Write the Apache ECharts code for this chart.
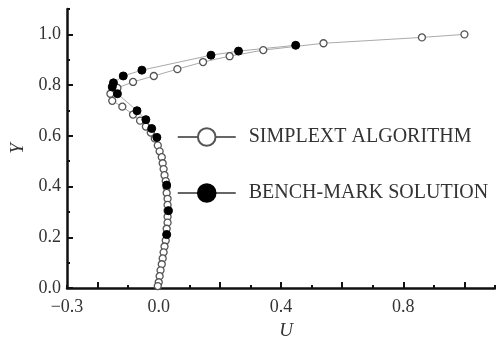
<!DOCTYPE html>
<html>
<head>
<meta charset="utf-8">
<script src="https://cdn.jsdelivr.net/npm/echarts@6/dist/echarts.min.js"></script>
<style>
  html, body { margin: 0; padding: 0; background: #fff; }
  #main { width: 496px; height: 345px; }
</style>
</head>
<body>
<div id="main"></div>
<script>
// values: [U, Y]
var simplextU = [1.0, 0.861, 0.539, 0.342, 0.232, 0.145, 0.061, -0.016, -0.084, -0.135, -0.158, -0.152, -0.119, -0.084,
    -0.061, -0.042, -0.026, -0.013, -0.003, 0.003, 0.010, 0.013, 0.016, 0.019, 0.023, 0.026, 0.026, 0.029, 0.029,
    0.029, 0.029, 0.029, 0.026, 0.026, 0.023, 0.019, 0.016, 0.013, 0.010, 0.006, 0.003, 0.0, -0.003];
var simplextY = [1.0, 0.988, 0.965, 0.938, 0.914, 0.891, 0.863, 0.836, 0.8125, 0.789, 0.766, 0.738, 0.715, 0.684,
    0.660, 0.637, 0.613, 0.590, 0.5625, 0.539, 0.516, 0.492, 0.469, 0.445, 0.422, 0.398, 0.375, 0.352, 0.328,
    0.305, 0.281, 0.258, 0.234, 0.211, 0.1875, 0.164, 0.141, 0.117, 0.094, 0.070, 0.047, 0.023, 0.008];

var benchU = [0.448, 0.261, 0.171, -0.055, -0.116, -0.148, -0.152, -0.135, -0.071, -0.042, -0.023, -0.006, 0.026, 0.032, 0.026];
var benchY = [0.957, 0.934, 0.918, 0.859, 0.836, 0.809, 0.793, 0.766, 0.699, 0.664, 0.629, 0.594, 0.406, 0.305, 0.211];

var xLabels = [-0.3, 0.0, 0.4, 0.8];
var yLabels = [0.0, 0.2, 0.4, 0.6, 0.8, 1.0];
var xMajor = [-0.2, 0.0, 0.2, 0.4, 0.6, 0.8, 1.0];
var yMajor = [0.0, 0.2, 0.4, 0.6, 0.8, 1.0];

function pairs(xs, ys) {
    return xs.map(function (x, i) { return [x, ys[i]]; });
}

var serif = 'Liberation Serif';
var labelFmt = function (v) { return v < 0 ? '\u2212' + Math.abs(v).toFixed(1) : v.toFixed(1); };

var option = {
    animation: false,
    backgroundColor: '#fff',
    grid: { left: 61, right: 1, top: 9, bottom: 54 },
    legend: {
        orient: 'vertical',
        left: 172,
        top: 122,
        itemWidth: 58,
        itemHeight: 22,
        itemGap: 36,
        lineStyle: { color: '#333', width: 1.5 },
        textStyle: { fontFamily: serif, fontSize: 20, color: '#333', padding: [0, 0, 0, 8] },
        data: ['SIMPLEXT ALGORITHM', 'BENCH-MARK SOLUTION']
    },
    xAxis: [
        {
            type: 'value',
            min: -0.3,
            max: 1.1,
            interval: 0.1,
            splitLine: { show: false },
            axisLine: { onZero: false, lineStyle: { color: '#111', width: 2.5 } },
            axisTick: { inside: true, length: 3, lineStyle: { color: '#111', width: 2 } },
            axisLabel: {
                customValues: xLabels,
                formatter: labelFmt,
                margin: 10,
                fontFamily: serif, fontSize: 18, color: '#333'
            },
            name: 'U',
            nameLocation: 'middle',
            nameGap: 27,
            nameTextStyle: { fontFamily: serif, fontStyle: 'italic', fontSize: 19, color: '#333', padding: [0, 0, 0, 10] }
        },
        {
            type: 'value',
            min: -0.3,
            max: 1.1,
            position: 'bottom',
            splitLine: { show: false },
            axisLine: { show: false, onZero: false },
            axisTick: { inside: true, length: 6, customValues: xMajor, lineStyle: { color: '#111', width: 2 } },
            axisLabel: { show: false }
        }
    ],
    yAxis: [
        {
            type: 'value',
            min: 0,
            max: 1.1,
            interval: 0.1,
            splitLine: { show: false },
            axisLine: { onZero: false, lineStyle: { color: '#111', width: 2.5 } },
            axisTick: { inside: true, length: 3, lineStyle: { color: '#111', width: 2 } },
            axisLabel: {
                customValues: yLabels,
                formatter: labelFmt,
                margin: 6,
                fontFamily: serif, fontSize: 18, color: '#333'
            },
            name: 'Y',
            nameLocation: 'middle',
            nameGap: 40,
            nameTextStyle: { fontFamily: serif, fontStyle: 'italic', fontSize: 19, color: '#333' }
        },
        {
            type: 'value',
            min: 0,
            max: 1.1,
            position: 'left',
            splitLine: { show: false },
            axisLine: { show: false, onZero: false },
            axisTick: { inside: true, length: 6, customValues: yMajor, lineStyle: { color: '#111', width: 2 } },
            axisLabel: { show: false }
        }
    ],
    series: [
        {
            name: 'SIMPLEXT ALGORITHM',
            type: 'line',
            data: pairs(simplextU, simplextY),
            symbol: 'circle',
            symbolSize: 7,
            showAllSymbol: true,
            lineStyle: { color: '#aaa', width: 1 },
            itemStyle: { color: '#fff', borderColor: '#555', borderWidth: 1.3 }
        },
        {
            name: 'BENCH-MARK SOLUTION',
            type: 'line',
            data: pairs(benchU, benchY),
            symbol: 'circle',
            symbolSize: 8,
            showAllSymbol: true,
            lineStyle: { color: '#aaa', width: 1 },
            itemStyle: { color: '#000', borderColor: '#000', borderWidth: 1 }
        }
    ]
};

var myChart = echarts.init(document.getElementById('main'));
myChart.setOption(option);
</script>
</body>
</html>
